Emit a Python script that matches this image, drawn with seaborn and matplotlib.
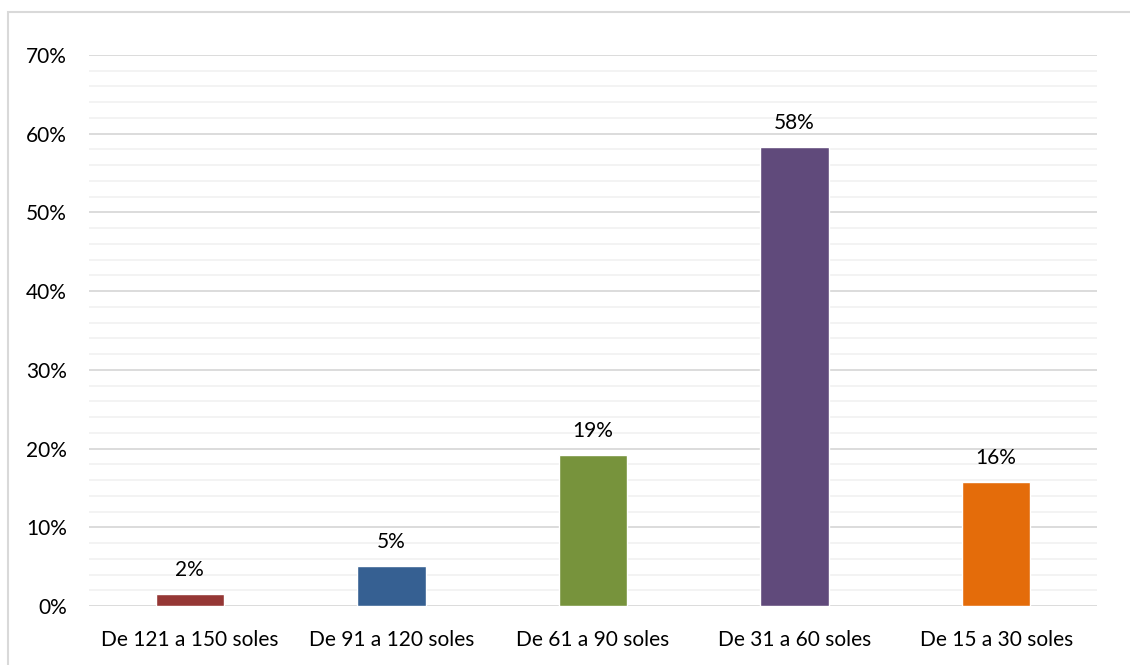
import matplotlib
matplotlib.use("Agg")
import matplotlib.pyplot as plt
import seaborn as sns
import pandas as pd
from matplotlib.ticker import MultipleLocator, FuncFormatter
from matplotlib.patches import Rectangle

categories = ["De 121 a 150 soles", "De 91 a 120 soles", "De 61 a 90 soles",
              "De 31 a 60 soles", "De 15 a 30 soles"]
values = [1.5, 5.1, 19.2, 58.3, 15.8]
labels = ["2%", "5%", "19%", "58%", "16%"]
colors = ["#953735", "#366092", "#77933C", "#604A7B", "#E46C0A"]

sns.set_theme(style="white")
plt.rcParams['font.family'] = ['Lato', 'DejaVu Sans']

df = pd.DataFrame({"cat": categories, "val": values})

fig = plt.figure(figsize=(11.3, 6.65), dpi=100)
ax = fig.add_axes([89/1130, 1-606/665, (1097-89)/1130, (606-55)/665])

# chart frame
fig.patches.append(Rectangle((8/1130, -0.01), 1.2, 1-12/665 + 0.01, transform=fig.transFigure,
                             fill=False, edgecolor="#d9d9d9", linewidth=1.5, zorder=0))

sns.barplot(data=df, x="cat", y="val", hue="cat", palette=colors, legend=False,
            width=0.34, saturation=1, ax=ax, zorder=3)

ax.set_ylim(0, 70)
ax.set_xlim(-0.5, 4.5)
ax.yaxis.set_major_locator(MultipleLocator(10))
ax.yaxis.set_minor_locator(MultipleLocator(2))
ax.yaxis.set_major_formatter(FuncFormatter(lambda v, p: f"{v:.0f}%"))
ax.grid(axis="y", which="minor", color="#f2f2f2", linewidth=1.3, zorder=0)
ax.grid(axis="y", which="major", color="#d9d9d9", linewidth=1.3, zorder=1)
ax.set_axisbelow(True)
for s in ax.spines.values():
    s.set_visible(False)
ax.set_xlabel("")
ax.set_ylabel("")
ax.tick_params(axis="y", which="both", length=0, pad=16, labelsize=15, labelcolor="#000000")
ax.tick_params(axis="x", length=0, pad=17, labelsize=15, labelcolor="#000000")

for i, (v, t) in enumerate(zip(values, labels)):
    ax.annotate(t, (i, v), xytext=(0, 10), textcoords="offset points",
                ha="center", va="bottom", fontsize=15, color="#000000")

fig.savefig("out.png", dpi=100, facecolor="white")
